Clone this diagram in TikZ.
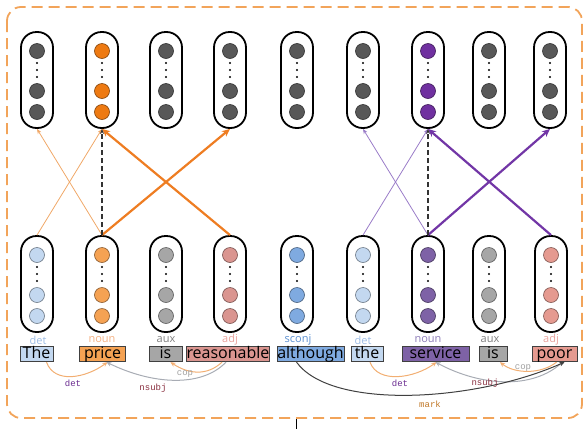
\documentclass[tikz,border=0pt]{standalone}
\usepackage{fontspec}
\setmainfont{Open Sans}
\newfontfamily\depfont{Liberation Mono}
\usetikzlibrary{arrows.meta}

% palette
\definecolor{frameor}{HTML}{F2A45A}
\definecolor{topdark}{HTML}{585858}
\definecolor{toporange}{HTML}{EE7A12}
\definecolor{toppurple}{HTML}{7030A0}
\definecolor{cdet}{HTML}{C3D8F0}
\definecolor{cnoun}{HTML}{F5A253}
\definecolor{caux}{HTML}{A6A6A6}
\definecolor{cadj}{HTML}{DA9590}
\definecolor{csconj}{HTML}{7FAAE0}
\definecolor{cnounp}{HTML}{7E62A6}
\definecolor{cadjp}{HTML}{E59A90}
\definecolor{tdet}{HTML}{9DBCE4}
\definecolor{tnoun}{HTML}{F4B183}
\definecolor{taux}{HTML}{7F7F7F}
\definecolor{tadj}{HTML}{E8A29C}
\definecolor{tsconj}{HTML}{5B8FD0}
\definecolor{tnounp}{HTML}{8C7BB8}
\definecolor{lor}{HTML}{F0A868}
\definecolor{kor}{HTML}{EE7D22}
\definecolor{lpu}{HTML}{9A7CC8}
\definecolor{kpu}{HTML}{7236A6}
\definecolor{arcor}{HTML}{F2AE72}
\definecolor{arcgray}{HTML}{A8ACB4}
\definecolor{ldet}{HTML}{6A2C90}
\definecolor{lnsubj}{HTML}{8A3040}
\definecolor{lcop}{HTML}{A0A0A0}
\definecolor{lmark}{HTML}{C07828}

\tikzset{
  capsule/.style={draw=black, line width=1.8pt, rounded corners=15.5pt,
    minimum width=32pt, minimum height=96pt, inner sep=0pt},
  neuron/.style={circle, draw=#1!55!black, fill=#1, line width=0.6pt,
    minimum size=15pt, inner sep=0pt},
  dotmark/.style={circle, fill=black, minimum size=2.4pt, inner sep=0pt},
  pics/vec/.style={code={
    \node[capsule] (-box) at (0,0) {};
    \node[neuron=#1] (-u1) at (0,-29) {};
    \node[neuron=#1] (-u2) at (0,11) {};
    \node[neuron=#1] (-u3) at (0,32) {};
    \node[dotmark] (-d1) at (0,-17) {};
    \node[dotmark] (-d2) at (0,-10) {};
    \node[dotmark] (-d3) at (0,-3) {};
  }},
  word/.style={draw=black!75, line width=0.8pt, fill=#1, minimum height=15.5pt,
    inner sep=0pt, text height=11.5pt, text depth=2.5pt,
    font=\fontsize{16}{16}\selectfont},
  pos/.style={text=#1, inner sep=0pt, font=\fontsize{11}{11}\selectfont},
  deplabel/.style={text=#1, inner sep=0pt, font=\depfont\fontsize{9}{9}\selectfont},
  thinarr/.style={draw=#1, line width=0.8pt, -{Stealth[length=5pt,width=4pt]}},
  thickarr/.style={draw=#1, line width=2.2pt, -{Stealth[length=8pt,width=7pt]}},
  idarr/.style={draw=black!80, line width=1.1pt, dash pattern=on 5pt off 3pt,
    -{Stealth[length=5pt,width=4pt]}},
  arc/.style={draw=#1, line width=1pt, -{Stealth[length=5pt,width=4.5pt]}},
  frame/.style={draw=frameor, line width=1.8pt, dash pattern=on 11pt off 6pt,
    rounded corners=14pt},
}

\begin{document}
\begin{tikzpicture}[x=1pt,y=-1pt]
\useasboundingbox (0,0) rectangle (584,429);

% outer dashed frame
\draw[frame] (7,7) rectangle (582,418);

% upper (output) vectors
\pic (t1) at (37,80) {vec=topdark};
\pic (t2) at (102,80) {vec=toporange};
\pic (t3) at (166,80) {vec=topdark};
\pic (t4) at (230,80) {vec=topdark};
\pic (t5) at (297,80) {vec=topdark};
\pic (t6) at (363,80) {vec=topdark};
\pic (t7) at (428,80) {vec=toppurple};
\pic (t8) at (489,80) {vec=topdark};
\pic (t9) at (550,80) {vec=topdark};

% lower (input) vectors
\pic (b1) at (37,284) {vec=cdet};
\pic (b2) at (102,284) {vec=cnoun};
\pic (b3) at (166,284) {vec=caux};
\pic (b4) at (230,284) {vec=cadj};
\pic (b5) at (297,284) {vec=csconj};
\pic (b6) at (363,284) {vec=cdet};
\pic (b7) at (428,284) {vec=cnounp};
\pic (b8) at (489,284) {vec=caux};
\pic (b9) at (551,284) {vec=cadjp};

% words
\node[word=cdet, minimum width=33pt] (w1) at (36.5,354) {The};
\node[word=cnoun, minimum width=46pt] (w2) at (102.5,354) {price};
\node[word=caux, minimum width=33pt] (w3) at (165.5,354) {is};
\node[word=cadj, minimum width=82pt] (w4) at (228,354) {reasonable};
\node[word=csconj, minimum width=67pt] (w5) at (310.5,354) {although};
\node[word=cdet, minimum width=32pt] (w6) at (367,354) {the};
\node[word=cnounp, minimum width=67pt] (w7) at (435.5,354) {service};
\node[word=caux, minimum width=28pt] (w8) at (493,354) {is};
\node[word=cadjp, minimum width=45pt] (w9) at (554.5,354) {poor};

% part-of-speech tags
\node[pos=tdet] (p1) at (38,340) {det};
\node[pos=tnoun] (p2) at (102,340) {noun};
\node[pos=taux] (p3) at (166,340) {aux};
\node[pos=tadj] (p4) at (230,340) {adj};
\node[pos=tsconj] (p5) at (298,340) {sconj};
\node[pos=tdet] (p6) at (363,340) {det};
\node[pos=tnounp] (p7) at (428,340) {noun};
\node[pos=taux] (p8) at (490,340) {aux};
\node[pos=tadj] (p9) at (551,340) {adj};

% attention links, first clause
\draw[thinarr=lor] (b1-box.north) -- (t2-box.south);
\draw[thinarr=lor] (b2-box.north) -- (t1-box.south);
\draw[thickarr=kor] (b2-box.north) -- (t4-box.south);
\draw[thickarr=kor] (b4-box.north) -- (t2-box.south);
\draw[idarr] (b2-box.north) -- (t2-box.south);

% attention links, second clause
\draw[thinarr=lpu] (b6-box.north) -- (t7-box.south);
\draw[thinarr=lpu] (b7-box.north) -- (t6-box.south);
\draw[thickarr=kpu] (b7-box.north) -- (t9-box.south);
\draw[thickarr=kpu] (b9-box.north) -- (t7-box.south);
\draw[idarr] (b7-box.north) -- (t7-box.south);

% dependency arcs
\draw[arc=arcor] ([xshift=10pt]w1.south) .. controls +(8,22) and +(-22,16) .. ([xshift=5pt]w2.south);
\draw[arc=arcgray] ([xshift=-2pt]w4.south) .. controls +(-25,26) and +(45,22) .. ([xshift=4pt]w2.south);
\draw[arc=arcor] ([xshift=-6pt]w4.south) .. controls +(-15,14) and +(18,12) .. ([xshift=5pt]w3.south);
\draw[arc=arcor] ([xshift=3pt]w6.south) .. controls +(8,22) and +(-22,16) .. ([xshift=1pt]w7.south);
\draw[arc=arcgray] ([xshift=8pt]w9.south) .. controls +(-30,28) and +(45,24) .. (w7.south);
\draw[arc=arcor] ([xshift=2pt]w9.south) .. controls +(-15,12) and +(15,12) .. ([xshift=7pt]w8.south);
\draw[arc=black!75] ([xshift=-14pt]w5.south) .. controls +(35,48) and +(-90,40) .. ([xshift=10pt]w9.south);

% dependency labels
\node[deplabel=ldet] (l1) at (73,383) {det};
\node[deplabel=lnsubj] (l2) at (153,388) {nsubj};
\node[deplabel=lcop] (l3) at (185,374) {cop};
\node[deplabel=ldet] (l4) at (400,383) {det};
\node[deplabel=lnsubj] (l5) at (485,383) {nsubj};
\node[deplabel=lcop] (l6) at (523,368) {cop};
\node[deplabel=lmark] (l7) at (430,404) {mark};

% text cursor below the frame
\draw[black, line width=0.9pt] (296,419) -- (296,429);
\end{tikzpicture}
\end{document}
